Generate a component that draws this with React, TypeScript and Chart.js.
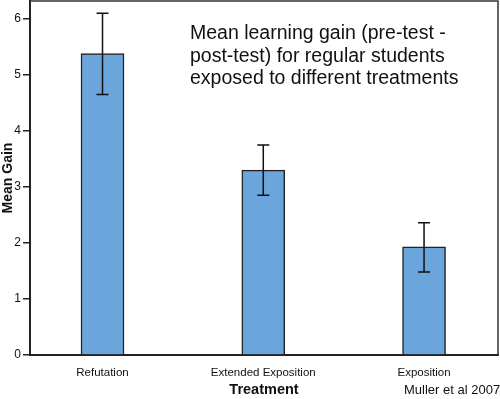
import React, { useEffect, useRef } from "react";
import { Chart, registerables } from "chart.js";

Chart.register(...registerables);

const categories = ["Refutation", "Extended Exposition", "Exposition"];
const meanGain = [5.38, 3.3, 1.93];
const errLow = [4.65, 2.85, 1.48];
const errHigh = [6.1, 3.75, 2.36];
const yTicks = [0, 1, 2, 3, 4, 5, 6];
const titleLines = [
  "Mean learning gain (pre-test -",
  "post-test) for regular students",
  "exposed to different treatments",
];
const sourceNote = "Muller et al 2007";

const FONT = "'Liberation Sans', Arial, sans-serif";

const extrasPlugin = {
  id: "extras",
  afterDatasetsDraw(chart: any) {
    const { ctx, chartArea, scales } = chart;
    const x = scales.x;
    const y = scales.y;
    ctx.save();
    // frame top/right
    ctx.strokeStyle = "#333";
    ctx.lineWidth = 1.5;
    ctx.beginPath();
    ctx.moveTo(chartArea.left, chartArea.top);
    ctx.lineTo(chartArea.right, chartArea.top);
    ctx.lineTo(chartArea.right, chartArea.bottom);
    ctx.stroke();
    // error bars
    ctx.strokeStyle = "#111";
    ctx.lineWidth = 1.5;
    meanGain.forEach((_, i) => {
      const px = x.getPixelForValue(i);
      const lo = y.getPixelForValue(errLow[i]);
      const hi = y.getPixelForValue(errHigh[i]);
      ctx.beginPath();
      ctx.moveTo(px, lo);
      ctx.lineTo(px, hi);
      ctx.moveTo(px - 6, lo);
      ctx.lineTo(px + 6, lo);
      ctx.moveTo(px - 6, hi);
      ctx.lineTo(px + 6, hi);
      ctx.stroke();
    });
    // title text
    ctx.fillStyle = "#111";
    ctx.font = `19.5px ${FONT}`;
    ctx.textAlign = "left";
    ctx.textBaseline = "middle";
    titleLines.forEach((t, i) => {
      ctx.fillText(t, 190, 34 + i * 22.5);
    });
    // source note
    ctx.font = `13px ${FONT}`;
    ctx.fillText(sourceNote, 404, 390);
    ctx.restore();
  },
};

export default function App() {
  const ref = useRef<HTMLCanvasElement | null>(null);
  useEffect(() => {
    document.body.style.margin = "0";
    const canvas = ref.current!;
    const chart = new Chart(canvas, {
      type: "bar",
      data: {
        datasets: [
          {
            data: meanGain.map((v, i) => ({ x: i, y: v })),
            backgroundColor: "#6aa6db",
            borderColor: "#222",
            borderWidth: 1.5,
            barThickness: 43,
          },
        ],
      },
      options: {
        animation: false,
        responsive: false,
        maintainAspectRatio: false,
        layout: { padding: { top: 1, right: 2, left: 0, bottom: 0 } },
        plugins: {
          legend: { display: false },
          tooltip: { enabled: false },
          title: { display: false },
        },
        scales: {
          x: {
            type: "linear",
            offset: false,
            min: -0.451,
            max: 2.46,
            afterBuildTicks: (s: any) => {
              s.ticks = categories.map((_, i) => ({ value: i }));
            },
            afterFit: (s: any) => {
              s.height = 44;
              s.paddingLeft = 0;
              s.paddingRight = 0;
            },
            grid: { display: false, drawTicks: false, offset: false },
            border: { display: true, color: "#222", width: 2 },
            ticks: {
              color: "#111",
              font: { family: FONT, size: 11.5 },
              padding: 11,
              maxRotation: 0,
              autoSkip: false,
              callback: (v: any) => categories[Math.round(Number(v))] ?? "",
            },
            title: {
              display: true,
              text: "Treatment",
              color: "#111",
              font: { family: FONT, size: 14.5, weight: "bold" },
              padding: { top: 1, bottom: 0 },
            },
          },
          y: {
            min: 0,
            max: 6.32,
            afterBuildTicks: (s: any) => {
              s.ticks = yTicks.map((v) => ({ value: v }));
            },
            afterFit: (s: any) => {
              s.width = 30;
              s.paddingTop = 0;
              s.paddingBottom = 0;
            },
            grid: {
              display: true,
              drawOnChartArea: false,
              drawTicks: true,
              tickLength: 7,
              color: "#222",
              lineWidth: 1.5,
            },
            border: { display: true, color: "#222", width: 2 },
            ticks: {
              color: "#111",
              font: { family: FONT, size: 12 },
              padding: 2,
              callback: (v: any) => String(v),
            },
            title: {
              display: true,
              text: "Mean Gain",
              color: "#111",
              font: { family: FONT, size: 14, weight: "bold" },
              padding: 0,
            },
          },
        },
      },
      plugins: [extrasPlugin],
    } as any);
    return () => chart.destroy();
  }, []);
  return <canvas ref={ref} width={500} height={399} style={{ display: "block" }} />;
}
